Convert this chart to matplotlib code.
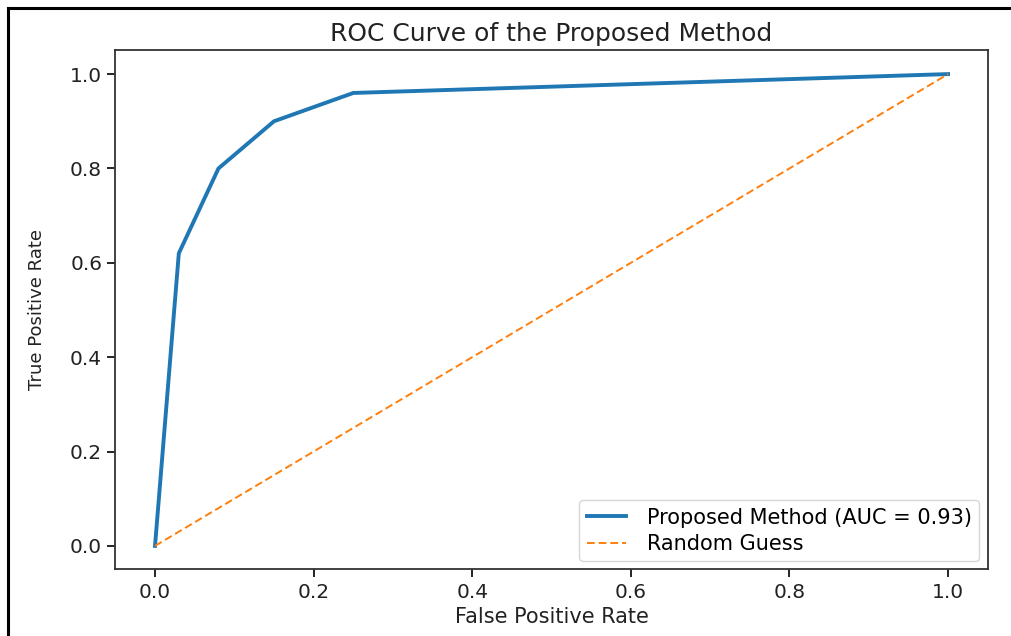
import matplotlib
matplotlib.use('Agg')
import matplotlib.pyplot as plt
from matplotlib.lines import Line2D

fpr = [0.0, 0.03, 0.08, 0.15, 0.25, 1.0]
tpr = [0.0, 0.62, 0.80, 0.90, 0.96, 1.0]
diag = [0.0, 1.0]
auc_value = 0.93

fig = plt.figure(figsize=(10.12, 6.36), dpi=100)
ax = fig.add_axes([0.114, 0.1046, 0.862, 0.816])

ax.plot(fpr, tpr, color='#1f77b4', lw=2.8, label=f'Proposed Method (AUC = {auc_value:.2f})')
ax.plot(diag, diag, color='#ff7f0e', lw=1.4, ls='--', dashes=(4, 2), label='Random Guess')

ax.set_title('ROC Curve of the Proposed Method', fontsize=18, pad=7, color='#222222')
ax.set_xlabel('False Positive Rate', fontsize=15, color='#222222')
ax.set_ylabel('True Positive Rate', fontsize=13, color='#222222')
ax.yaxis.set_label_coords(-0.079, 0.5)
ax.tick_params(labelsize=14.5, length=6, width=1.2, labelcolor='#222222')
for s in ax.spines.values():
    s.set_linewidth(1.3)
    s.set_color('#333333')
ax.legend(loc='lower right', fontsize=15, handlelength=1.9, handletextpad=1.0,
          labelspacing=0.3, borderaxespad=0.4, borderpad=0.35)

# black frame on left and top of the picture
fig.add_artist(Line2D([0.008, 0.008], [0, 0.987], transform=fig.transFigure, color='black', lw=2.2))
fig.add_artist(Line2D([0.008, 1.0], [0.987, 0.987], transform=fig.transFigure, color='black', lw=2.2))

fig.savefig('out.png', dpi=100)
